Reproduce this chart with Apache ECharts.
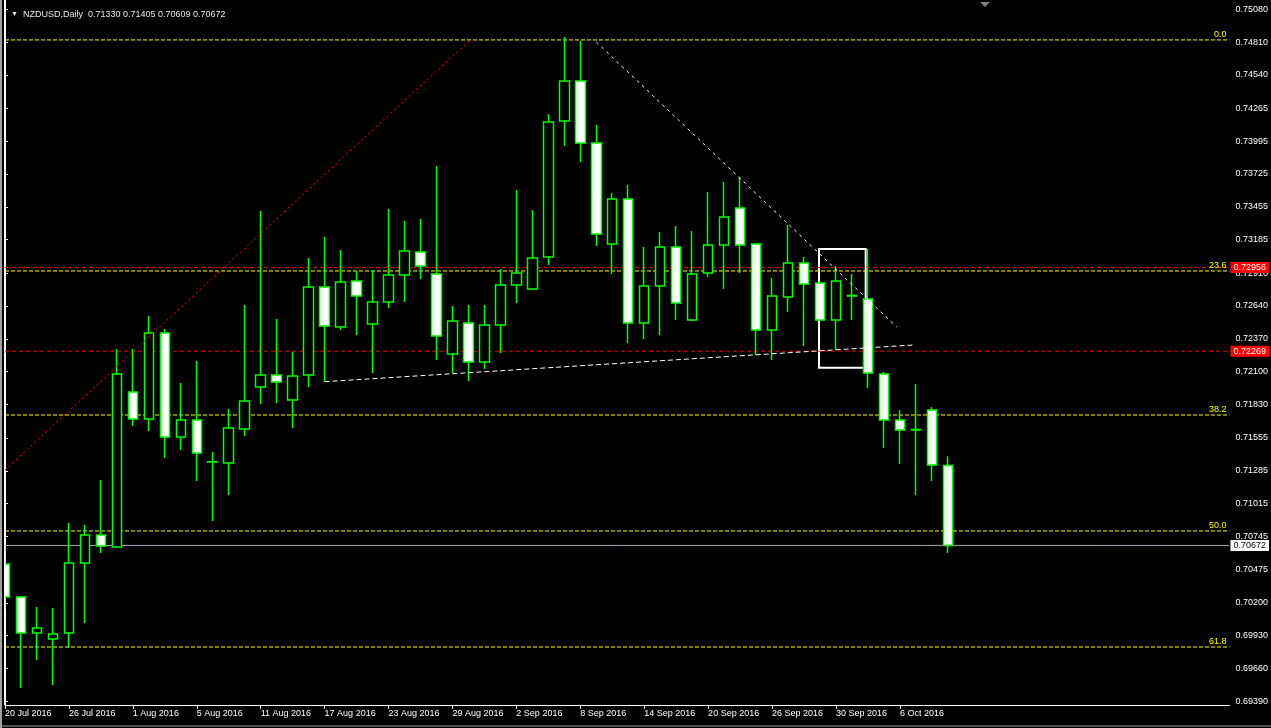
<!DOCTYPE html>
<html><head><meta charset="utf-8">
<script src="https://cdn.jsdelivr.net/npm/echarts@6/dist/echarts.min.js"></script>
<style>html,body{margin:0;padding:0;background:#000;overflow:hidden}#c{width:1271px;height:728px}</style>
</head><body><div id="c"></div>
<script>
// ---- data ----
const dates = ['20 Jul 2016','21 Jul 2016','22 Jul 2016','25 Jul 2016','26 Jul 2016','27 Jul 2016','28 Jul 2016','29 Jul 2016',
 '1 Aug 2016','2 Aug 2016','3 Aug 2016','4 Aug 2016','5 Aug 2016','8 Aug 2016','9 Aug 2016','10 Aug 2016','11 Aug 2016','12 Aug 2016',
 '15 Aug 2016','16 Aug 2016','17 Aug 2016','18 Aug 2016','19 Aug 2016','22 Aug 2016','23 Aug 2016','24 Aug 2016','25 Aug 2016','26 Aug 2016',
 '29 Aug 2016','30 Aug 2016','31 Aug 2016','1 Sep 2016','2 Sep 2016','5 Sep 2016','6 Sep 2016','7 Sep 2016','8 Sep 2016','9 Sep 2016',
 '12 Sep 2016','13 Sep 2016','14 Sep 2016','15 Sep 2016','16 Sep 2016','19 Sep 2016','20 Sep 2016','21 Sep 2016','22 Sep 2016','23 Sep 2016',
 '26 Sep 2016','27 Sep 2016','28 Sep 2016','29 Sep 2016','30 Sep 2016','3 Oct 2016','4 Oct 2016','5 Oct 2016','6 Oct 2016','7 Oct 2016',
 '10 Oct 2016','11 Oct 2016'];
const opens  = [0.70519,0.70248,0.69952,0.69903,0.69952,0.70528,0.70758,0.70659,0.71933,0.71711,0.72418,0.71563,0.71703,0.71358,0.71350,
 0.71629,0.71974,0.72073,0.71867,0.72073,0.72796,0.72468,0.72846,0.72492,0.72673,0.72895,0.73084,0.72903,0.72246,0.72500,
 0.72180,0.72484,0.72813,0.72780,0.73043,0.74161,0.74490,0.73980,0.73150,0.73520,0.72500,0.72805,0.73125,0.72525,0.72911,
 0.73142,0.73446,0.73150,0.72443,0.72714,0.72994,0.72829,0.72525,0.72722,0.72698,0.72081,0.71703,0.71621,0.71785,0.71330];
const highs  = [0.70667,0.70256,0.70166,0.70158,0.70856,0.70840,0.71210,0.72287,0.72287,0.72558,0.72451,0.72007,0.72188,0.71440,0.71793,
 0.72648,0.73421,0.72533,0.72262,0.73035,0.73207,0.73100,0.72928,0.72936,0.73437,0.73339,0.73355,0.73791,0.72640,0.72648,
 0.72648,0.72944,0.73594,0.73429,0.74218,0.74851,0.74818,0.74128,0.73569,0.73635,0.73125,0.73248,0.73298,0.73257,0.73577,
 0.73659,0.73700,0.73158,0.72870,0.73306,0.73043,0.72837,0.72969,0.72903,0.73109,0.72098,0.71785,0.71999,0.71810,0.71405];
const lows   = [0.70141,0.69500,0.69730,0.69525,0.69829,0.70034,0.70610,0.70651,0.71654,0.71613,0.71391,0.71456,0.71202,0.70873,0.71087,
 0.71571,0.71835,0.71843,0.71637,0.71974,0.72015,0.72443,0.72402,0.72089,0.72624,0.72673,0.72862,0.72196,0.72089,0.72024,
 0.72122,0.72254,0.72665,0.72772,0.72977,0.73955,0.73824,0.73133,0.72903,0.72336,0.72369,0.72402,0.72525,0.72517,0.72878,
 0.72780,0.72911,0.72237,0.72196,0.72591,0.72311,0.72517,0.72278,0.72525,0.71966,0.71473,0.71341,0.71087,0.71202,0.70609];
const closes = [0.70248,0.69952,0.69993,0.69944,0.70528,0.70758,0.70667,0.72081,0.71711,0.72418,0.71563,0.71703,0.71432,0.71360,0.71637,
 0.71859,0.72073,0.72015,0.72065,0.72796,0.72476,0.72837,0.72722,0.72673,0.72895,0.73092,0.72969,0.72394,0.72517,0.72180,
 0.72484,0.72813,0.72911,0.73035,0.74153,0.74490,0.73980,0.73232,0.73520,0.72500,0.72805,0.73125,0.72665,0.72903,0.73142,
 0.73372,0.73142,0.72443,0.72722,0.72994,0.72821,0.72525,0.72846,0.72726,0.72089,0.71703,0.71621,0.71625,0.71333,0.70672];
const yTickValues = [0.75080,0.74810,0.74540,0.74265,0.73995,0.73725,0.73455,0.73185,0.72910,0.72640,0.72370,0.72100,0.71830,
 0.71555,0.71285,0.71015,0.70745,0.70475,0.70200,0.69930,0.69660,0.69390];
const xLabelIndex = [0,4,8,12,16,20,24,28,32,36,40,44,48,52,56];
const fibLabels = ['0.0','23.6','38.2','50.0','61.8'];
const fibPrices = [0.74827,0.72928,0.71744,0.70791,0.69837];
const redLevels = [0.72956,0.72269];
const redTrend = [[0,0.71292],[29.1,0.74827]];
const whiteTrend = [[37.0,0.74810],[55.8,0.72468]];
const neckline = [[20.0,0.72018],[56.9,0.72320]];
const boxCorners = [[50.94,0.73109],[53.86,0.72133]];
const symbolName = 'NZDUSD,Daily';

// ---- chart ----
const FONT = 'Liberation Sans';
const X_MIN = 0, X_MAX = 76.625, Y_MIN = 0.693603, Y_MAX = 0.751554;
const candles = dates.map((d,i)=>[i,opens[i],closes[i],lows[i],highs[i]]);
const n = dates.length - 1;
const fmt = v => v.toFixed(5);
const lastClose = closes[n];
const YEL = '#ffff00', RED = '#ff0000', GRAY = '#a8a8b8';

function hLine(price, color, dash, endLabel){
  return {type:'line', data:[[X_MIN,price],[X_MAX,price]], showSymbol:false, symbol:'none', silent:true, clip:false,
    color:color, lineStyle:{color:color,width:1,type:dash}, emphasis:{disabled:true}, endLabel:endLabel, z:3};
}
const levelSeries = [];
fibPrices.forEach((p,k)=>levelSeries.push(hLine(p,YEL,[4,2],
  {show:true,formatter:fibLabels[k],color:YEL,fontFamily:FONT,fontSize:9,align:'right',verticalAlign:'bottom',distance:0,offset:[-3,-1]})));
redLevels.forEach(p=>levelSeries.push(hLine(p,RED,[4,3],
  {show:true,formatter:fmt(p),color:'#fff',backgroundColor:RED,fontFamily:FONT,fontSize:9,align:'left',verticalAlign:'middle',distance:1,padding:[1,3,1,3]})));
levelSeries.push(hLine(lastClose,GRAY,'solid',
  {show:true,formatter:fmt(lastClose),color:'#000',backgroundColor:'#fff',fontFamily:FONT,fontSize:9,align:'left',verticalAlign:'middle',distance:1,padding:[1,3,1,3]}));

const option = {
  backgroundColor:'#000',
  animation:false,
  title:{text:'{t|▼}  '+symbolName+'  '+[opens[n],highs[n],lows[n],closes[n]].map(fmt).join(' '),
    left:6,top:5,textStyle:{color:'#e8e8e8',fontFamily:FONT,fontSize:9,fontWeight:'normal',
    rich:{t:{fontSize:7,color:'#e8e8e8'}}}},
  grid:{left:5,right:40,top:0,bottom:23},
  xAxis:{type:'value',min:X_MIN,max:X_MAX,
    axisLine:{show:true,lineStyle:{color:'#fff',width:1}},
    axisTick:{show:true,length:4,inside:false,lineStyle:{color:'#fff'},customValues:xLabelIndex},
    axisLabel:{show:true,customValues:xLabelIndex,color:'#fff',fontFamily:FONT,fontSize:9,margin:4,align:'left',
      formatter:v=>dates[Math.round(v)]||''},
    splitLine:{show:false}},
  yAxis:[{type:'value',position:'right',min:Y_MIN,max:Y_MAX,scale:true,
    axisLine:{show:true,lineStyle:{color:'#fff',width:1}},
    axisTick:{show:true,length:3,lineStyle:{color:'#fff'},customValues:yTickValues},
    axisLabel:{show:true,customValues:yTickValues,color:'#fff',fontFamily:FONT,fontSize:9,margin:6,
      formatter:v=>v.toFixed(5)},
    splitLine:{show:false}},
    {type:'value',position:'left',min:Y_MIN,max:Y_MAX,
     axisLine:{show:true,onZero:false,lineStyle:{color:'#fff',width:1}},axisTick:{show:false},axisLabel:{show:false},splitLine:{show:false}}],
  series:[
    ...levelSeries,
    {type:'candlestick',data:candles,encode:{x:0,y:[1,2,3,4]},barWidth:10,clip:true,z:5,
      itemStyle:{color:'#000',color0:'#fff',borderColor:'#00ff00',borderColor0:'#00ff00',borderWidth:1.5},
      markArea:{silent:true,data:[[{coord:boxCorners[0],itemStyle:{color:'rgba(0,0,0,0)',borderColor:'#fff',borderWidth:2}},{coord:boxCorners[1]}]]}},
    {type:'line',color:RED,data:redTrend,showSymbol:false,symbol:'none',clip:true,silent:true,z:6,lineStyle:{color:RED,width:1,type:[2,3]}},
    {type:'line',color:'#fff',data:whiteTrend,showSymbol:false,symbol:'none',clip:true,silent:true,z:6,lineStyle:{color:'#fff',width:1,type:[3,4]}},
    {type:'line',color:'#fff',data:neckline,showSymbol:false,symbol:'none',clip:true,silent:true,z:6,lineStyle:{color:'#fff',width:1,type:[5,3]}}
  ],
  graphic:[
    {type:'rect',z:100,shape:{x:0,y:0,width:4.5,height:728},style:{fill:'#000'},silent:true},
    {type:'rect',z:101,shape:{x:0,y:0,width:2,height:728},style:{fill:'#a0a0a0'},silent:true},
    {type:'line',z:101,shape:{x1:4.5,y1:0,x2:4.5,y2:705},style:{stroke:'#fff',lineWidth:1},silent:true},
    {type:'line',z:101,shape:{x1:0,y1:726,x2:1271,y2:726},style:{stroke:'#a0a0a0',lineWidth:1},silent:true},
    {type:'polygon',z:101,shape:{points:[[980,2],[990,2],[985,7]]},style:{fill:'#808080'},silent:true}
  ]
};
const chart = echarts.init(document.getElementById('c'),null,{renderer:'canvas'});
chart.setOption(option);
</script></body></html>
